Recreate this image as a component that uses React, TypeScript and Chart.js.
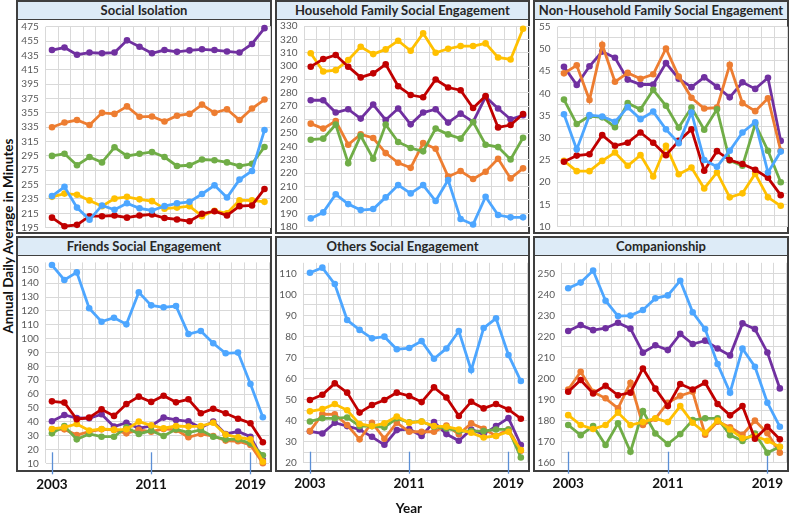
import React, { useEffect, useRef } from 'react';
import { Chart, registerables } from 'chart.js';

Chart.register(...registerables);

// ---------- data ----------
const years = ['2003','2004','2005','2006','2007','2008','2009','2010','2011','2012','2013','2014','2015','2016','2017','2018','2019','2020'];
const xTickLabels = ['2003', '2011', '2019'];

// Social Isolation
const isoPurple = [442.5,446,436,439,438,439,456,447,438,442.5,440,442,443.5,442.5,440.5,439,451,473];
const isoOrange = [335,341.5,345,338,355,353.5,364,349.5,350,343,351,353.5,366.5,355,360,345,361,373.5];
const isoGreen = [295,298,282,293.5,286,307,295,298,300.5,293.5,281,282,290,289,286,281,284,307.5];
const isoBlue = [239,252,223,206,226,220,229,222,219,225,229,231,242,254,237,262,274,331];
const isoYellow = [238,242.5,241,233,225,235.5,238,234.5,232,221.5,223,225,211,218.5,215,233,233,231];
const isoRed = [209,197,199,211,211,212,209,212,213.5,208.5,206.5,204,214.5,218,212,225,226,249];
const isoTicks = [195,215,235,255,275,295,315,335,355,375,395,415,435,455,475];

// Household Family Social Engagement
const hhYellow = [309.6,296,297,304.6,314.5,309,312.5,319,311.5,324.5,310,313,315,315,317,306.5,305,328];
const hhRed = [299.6,305.3,308.3,299.6,291.6,294.6,301.3,285,278.4,276.7,290,284,282,268.7,277.7,254.2,256,264.2];
const hhPurple = [274.5,274.5,265.3,267.8,260.8,271.3,259.8,268.3,256.5,265.3,267.8,257.8,264.5,258.3,277,268.3,260.3,263.3];
const hhOrange = [257,253.3,259,241.3,249,246.3,235,227.8,224,242.5,238.3,217.4,221.6,215.6,221.1,230.8,216.1,223.6];
const hhGreen = [245,245.8,256.3,227.5,248,230.8,256.3,243.3,238.8,236.3,253.3,249,245.8,258.3,241.3,239.5,230.3,246.5];
const hhBlue = [186.2,190.7,204.2,196.9,192.4,193.2,201.9,211.1,204.9,211.1,199.2,214.9,185.7,181.7,202.4,188.7,187,187];
const hhTicks = [180,190,200,210,220,230,240,250,260,270,280,290,300,310,320,330];

// Non-Household Family Social Engagement
const nhPurple = [46,41.9,46.1,49.4,48,43.1,42,42,46.8,43.3,41.4,43.6,41.5,39.1,42.5,41,43.5,29.3];
const nhOrange = [44.5,46.3,38.5,50.9,42.6,44.6,43.3,44.3,50.1,43.8,39,36.6,36.8,46.4,37.8,36,38.9,27.1];
const nhGreen = [38.6,33.1,34.9,34.6,32.4,37.8,36.4,40.8,37.2,32.3,36.8,31.8,36.4,24.9,23.7,33.1,27.1,20];
const nhBlue = [35.3,27.4,35.1,34.8,33.6,36.9,34.2,35.9,31.9,28.8,35.7,25,23.5,27.1,31.2,33.5,22.2,26.9];
const nhRed = [24.6,26,26.3,30.6,28.2,28.9,31.2,28.9,26.1,29.3,31.9,22.6,27,25,24.1,22.8,21,17.1];
const nhYellow = [24.8,22.5,22.5,24.8,26.7,23.7,26.1,21.3,28.2,21.8,23.3,18.6,22.2,16.6,17.5,21.9,16.6,14.7];
const nhTicks = [10,15,20,25,30,35,40,45,50,55];

// Friends Social Engagement
const frBlue = [153.1,142.3,147.8,121.9,112.2,115.1,110.3,133.4,124,122.6,123.5,103.3,105.5,96.6,89.4,89.9,67.2,43.2];
const frRed = [54.7,53.8,41.8,43,49,44.2,52.8,58.1,54.3,58.8,54,56.2,46.1,49.4,46.1,42.2,38.9,25.2];
const frPurple = [40.3,44.9,42.7,42.5,45.4,36.5,39.3,35.3,36.9,43,41.3,40.3,35.7,40.1,31.2,32.9,29.2,12.4];
const frYellow = [34.8,35.9,38.4,33.6,34.8,34.3,34.5,40.1,37.4,35.3,36.9,36.5,36.9,39.3,30.7,28.8,27.3,11.2];
const frOrange = [34.5,34.5,30.4,32.8,34.5,34.1,31.6,34.1,32.8,34.8,34.1,28.8,31.2,29.7,26.4,25.9,23.2,10];
const frGreen = [31.6,36.9,27.3,31.2,29.2,29.2,35.9,31.2,33.6,29.7,34.5,32.1,34.1,29.2,27.3,27.3,24.4,15.8];
const frTicks = [10,20,30,40,50,60,70,80,90,100,110,120,130,140,150];

// Others Social Engagement
const otBlue = [110.3,112.7,104.9,87.8,83.1,79.1,79.9,73.9,74.5,77.8,69.4,74.3,82.6,64,84,88.6,71.2,58.8];
const otRed = [49.8,52.3,57.7,53.3,43.8,47.4,49.8,53.3,51.7,48.8,55.8,51,42.2,49,45.8,47.9,45.3,40.9];
const otYellow = [44.4,45.5,47.9,44.9,38.4,37.4,38.7,41.9,39,39.5,37.4,37.1,35.8,34.2,32,32.7,34.7,26];
const otGreen = [39.6,41.1,41.1,41.5,37.4,37.4,36.8,41.1,39.2,39.6,37.1,36.3,35,35,35,35.8,35.8,22.5];
const otOrange = [35,43.1,43,37.9,31.1,39,31.4,39,34.7,34.7,34.7,37.7,33.5,38.7,36.1,32.7,35.8,25.7];
const otPurple = [34.9,33.9,39,37.4,35.8,32.3,28.5,35.5,36,32.7,39.3,33.6,30.4,35.8,33.6,37.4,41.2,28.4];
const otTicks = [20,30,40,50,60,70,80,90,100,110];

// Companionship
const coBlue = [242.9,245.6,251.3,237,229.7,229.9,232.6,238.1,239.5,246.5,231.5,223.5,206.9,193.3,214.2,205.6,188.5,177.1];
const coPurple = [222.6,225.4,223,223.9,226.5,223.7,212.3,215.8,213.5,221.2,216.4,218,214.3,211,226.2,223.5,212.4,195.3];
const coRed = [193.7,199.3,192.9,196.6,192,193.3,204.8,195.2,186.9,197.4,194.8,198,187.9,182.5,186.9,171.4,177.1,171.1];
const coOrange = [194.8,203.2,193.6,190.6,185.8,198,177.9,180.9,188.5,191.8,193.7,173.3,179.5,176.8,173.3,180,174,164.7];
const coYellow = [182.6,177.9,176,177.9,183.8,177.9,179.3,181.1,179.3,186.9,179,174.2,180,175.8,171.6,172.7,170.4,167.6];
const coGreen = [177.9,173.1,177.4,168.4,178.7,165.2,184.5,173.9,168.9,173.6,180.3,181.1,181.1,173.1,170.3,173.9,164.7,167.6];
const coTicks = [160,170,180,190,200,210,220,230,240,250];

// ---------- styles ----------
const COLORS = {
  blue: '#4DA6FF',
  red: '#C00000',
  yellow: '#FFC000',
  green: '#70AD47',
  orange: '#ED7D31',
  purple: '#7030A0',
};

type SeriesSet = { blue: number[]; red: number[]; yellow: number[]; green: number[]; orange: number[]; purple: number[] };

type PanelDef = {
  title: string;
  series: SeriesSet;
  ticks: number[];
  gridStep: number;
  yMax: number;
  bottomRow: boolean;
  box: { l: number; t: number; w: number; h: number };
  area: { l: number; r: number; t: number; b: number };
};

const panels: PanelDef[] = [
  {
    title: 'Social Isolation',
    series: { blue: isoBlue, red: isoRed, yellow: isoYellow, green: isoGreen, orange: isoOrange, purple: isoPurple },
    ticks: isoTicks, gridStep: 20, yMax: 475, bottomRow: false,
    box: { l: 16, t: 0, w: 256, h: 234 },
    area: { l: 45.75, r: 270.75, t: 26.7, b: 227.7 },
  },
  {
    title: 'Household Family Social Engagement',
    series: { blue: hhBlue, red: hhRed, yellow: hhYellow, green: hhGreen, orange: hhOrange, purple: hhPurple },
    ticks: hhTicks, gridStep: 10, yMax: 330, bottomRow: false,
    box: { l: 275, t: 0, w: 255, h: 234 },
    area: { l: 304.5, r: 529.3, t: 26, b: 226.7 },
  },
  {
    title: 'Non-Household Family Social Engagement',
    series: { blue: nhBlue, red: nhRed, yellow: nhYellow, green: nhGreen, orange: nhOrange, purple: nhPurple },
    ticks: nhTicks, gridStep: 2.5, yMax: 55, bottomRow: false,
    box: { l: 533, t: 0, w: 256, h: 234 },
    area: { l: 557.6, r: 787.1, t: 26.7, b: 226.7 },
  },
  {
    title: 'Friends Social Engagement',
    series: { blue: frBlue, red: frRed, yellow: frYellow, green: frGreen, orange: frOrange, purple: frPurple },
    ticks: frTicks, gridStep: 10, yMax: 155, bottomRow: true,
    box: { l: 16, t: 236, w: 256, h: 236 },
    area: { l: 45.75, r: 270.75, t: 262.4, b: 463.3 },
  },
  {
    title: 'Others Social Engagement',
    series: { blue: otBlue, red: otRed, yellow: otYellow, green: otGreen, orange: otOrange, purple: otPurple },
    ticks: otTicks, gridStep: 5, yMax: 115, bottomRow: true,
    box: { l: 275, t: 236, w: 255, h: 236 },
    area: { l: 303.75, r: 528.75, t: 262.8, b: 462.7 },
  },
  {
    title: 'Companionship',
    series: { blue: coBlue, red: coRed, yellow: coYellow, green: coGreen, orange: coOrange, purple: coPurple },
    ticks: coTicks, gridStep: 5, yMax: 255, bottomRow: true,
    box: { l: 533, t: 236, w: 256, h: 236 },
    area: { l: 562, r: 787, t: 262.8, b: 462.7 },
  },
];

const FONT = 'Lato, "Open Sans", sans-serif';
const Y_AXIS_W = 28;

const yearTickPlugin = {
  id: 'yearTicks',
  beforeDatasetsDraw(chart: any, _args: any, opts: any) {
    if (!opts || !opts.show) return;
    const xs = chart.scales.x;
    const bottom = chart.chartArea.bottom;
    const ctx = chart.ctx;
    ctx.save();
    ctx.strokeStyle = '#5B8FD6';
    ctx.lineWidth = 1.3;
    xTickLabels.forEach((lbl) => {
      const i = years.indexOf(lbl);
      const px = Math.round(xs.getPixelForValue(i)) + 0.5;
      ctx.beginPath();
      ctx.moveTo(px, bottom - 11);
      ctx.lineTo(px, bottom + 11);
      ctx.stroke();
    });
    ctx.restore();
  },
};

function Panel({ def }: { def: PanelDef }) {
  const ref = useRef<HTMLCanvasElement | null>(null);
  const cx = def.box.l;
  const cy = def.bottomRow ? 234 : 0;
  const cw = def.box.w + 4;
  const ch = def.bottomRow ? 271 : 246;
  const xH = def.bottomRow ? 30 : 0;

  useEffect(() => {
    if (!ref.current) return;
    const order: (keyof SeriesSet)[] = ['blue', 'red', 'yellow', 'green', 'orange', 'purple'];
    const ticks = def.ticks;
    const gridVals: number[] = [];
    for (let v = ticks[0]; v <= ticks[ticks.length - 1] + 1e-9; v += def.gridStep) gridVals.push(Math.round(v * 100) / 100);
    const chart = new Chart(ref.current, {
      type: 'line',
      data: {
        labels: years,
        datasets: order.map((k) => ({
          label: k,
          data: def.series[k],
          borderColor: COLORS[k],
          backgroundColor: COLORS[k],
          pointBackgroundColor: COLORS[k],
          pointBorderColor: COLORS[k],
          pointBorderWidth: 0,
          pointRadius: 3.3,
          borderWidth: 2.8,
          tension: 0,
          clip: false as any,
        })),
      },
      options: {
        animation: false,
        responsive: false,
        maintainAspectRatio: false,
        events: [],
        layout: {
          padding: {
            left: def.area.l - cx - Y_AXIS_W,
            right: cx + cw - def.area.r,
            top: def.area.t - cy,
            bottom: cy + ch - def.area.b - xH,
          },
        },
        plugins: {
          legend: { display: false },
          tooltip: { enabled: false },
          yearTicks: { show: def.bottomRow },
        } as any,
        scales: {
          x: {
            type: 'category',
            offset: true,
            grid: { offset: true, color: '#D9D9D9', lineWidth: 1, drawTicks: false },
            border: { display: false },
            ticks: {
              display: def.bottomRow,
              autoSkip: false,
              maxRotation: 0,
              minRotation: 0,
              padding: 13,
              color: '#111111',
              font: { family: FONT, size: 13.5, weight: 'bold' },
              callback: (_v: any, i: number) => (xTickLabels.includes(years[i]) ? years[i] : ''),
            },
            afterFit: (s: any) => { s.height = xH; },
          },
          y: {
            type: 'linear',
            min: ticks[0],
            max: def.yMax,
            grid: { color: '#D9D9D9', lineWidth: 1, drawTicks: false },
            border: { display: false },
            ticks: {
              autoSkip: false,
              padding: 7,
              color: '#595959',
              font: { family: FONT, size: 10 },
              callback: (v: any) => (ticks.includes(Number(v)) ? String(v) : ''),
            },
            afterBuildTicks: (s: any) => { s.ticks = gridVals.map((value) => ({ value })); },
            afterFit: (s: any) => { s.width = Y_AXIS_W; },
          },
        },
      } as any,
      plugins: [yearTickPlugin],
    });
    return () => chart.destroy();
  }, []);

  return (
    <>
      <div
        style={{
          position: 'absolute',
          left: def.box.l,
          top: def.box.t,
          width: def.box.w,
          height: def.box.h,
          border: '2px solid #3F3F3F',
          boxSizing: 'border-box',
          background: '#FFFFFF',
        }}
      >
        <div
          style={{
            height: 17,
            background: '#DDEBF7',
            borderBottom: '1.5px solid #3F3F3F',
            textAlign: 'center',
            fontFamily: FONT,
            fontWeight: 700,
            fontSize: 13,
            lineHeight: '17px',
            color: '#262626',
            whiteSpace: 'nowrap',
          }}
        >
          {def.title}
        </div>
      </div>
      <canvas
        ref={ref}
        width={cw}
        height={ch}
        style={{ position: 'absolute', left: cx, top: cy, width: cw, height: ch }}
      />
    </>
  );
}

export default function App() {
  return (
    <div style={{ position: 'absolute', left: 0, top: 0, width: 790, height: 515, background: '#FFFFFF', overflow: 'hidden' }}>
      {panels.map((p) => (
        <Panel key={p.title} def={p} />
      ))}
      <div
        style={{
          position: 'absolute',
          left: 8,
          top: 236,
          transform: 'translate(-50%, -50%) rotate(-90deg)',
          fontFamily: FONT,
          fontWeight: 700,
          fontSize: 13.5,
          color: '#111111',
          whiteSpace: 'nowrap',
        }}
      >
        Annual Daily Average in Minutes
      </div>
      <div
        style={{
          position: 'absolute',
          left: 409,
          top: 508,
          transform: 'translate(-50%, -50%)',
          fontFamily: FONT,
          fontWeight: 700,
          fontSize: 13.5,
          color: '#111111',
          whiteSpace: 'nowrap',
        }}
      >
        Year
      </div>
    </div>
  );
}
